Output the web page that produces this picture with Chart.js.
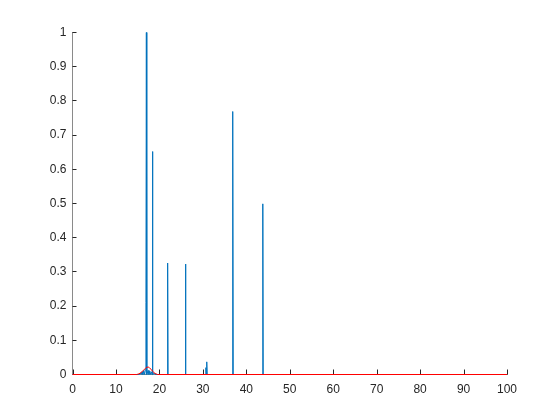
<!DOCTYPE html>
<html>
<head>
<meta charset="utf-8">
<script src="https://cdn.jsdelivr.net/npm/chart.js@4.4.0/dist/chart.umd.min.js"></script>
<style>
  html, body { margin: 0; padding: 0; background: #fff; }
  #wrap { width: 560px; height: 420px; }
</style>
</head>
<body>
<div id="wrap"><canvas id="js--plot" width="560" height="420"></canvas></div>
<script>
// tick labels
const xTicks = [0, 10, 20, 30, 40, 50, 60, 70, 80, 90, 100]
const yTicks = [0, 0.1, 0.2, 0.3, 0.4, 0.5, 0.6, 0.7, 0.8, 0.9, 1]

// blue trace (spectrum)
const blueX = [0, 15.4, 15.6, 15.8, 16.0, 16.2, 16.4, 16.6, 16.8, 16.9, 17.0, 17.1, 17.4, 17.6, 17.8, 18.0, 18.2, 18.3, 18.4, 18.5, 18.8, 19.0, 19.3,
               21.8, 21.9, 22.0, 25.9, 26.0, 26.1, 30.6, 30.7, 30.8, 30.9, 31.0, 36.8, 36.85, 36.9, 37.0, 43.7, 43.8, 43.9, 100]
const blueY = [0, 0, 0.004, 0, 0.008, 0, 0.012, 0, 0.015, 0.21, 1.0, 0, 0.012, 0, 0.01, 0, 0.008, 0, 0.652, 0, 0.004, 0, 0,
               0, 0.326, 0, 0, 0.323, 0, 0, 0.02, 0, 0.037, 0, 0, 0.283, 0.769, 0, 0, 0.499, 0, 0]

// red trace (smooth envelope)
const redX = [0, 14.8, 15.3, 15.8, 16.3, 16.8, 17.1, 17.4, 17.7, 18.0, 18.4, 18.8, 19.2, 19.6, 100]
const redY = [0, 0, 0.002, 0.006, 0.012, 0.018, 0.021, 0.022, 0.02, 0.016, 0.01, 0.005, 0.002, 0, 0]

const blueData = blueX.map((x, i) => ({ x: x, y: blueY[i] }))
const redData = redX.map((x, i) => ({ x: x, y: redY[i] }))

const axisColor = '#8a8a8a'
const textColor = '#262626'

// matlab style ticks pointing into the plot
const inwardTicks = {
  id: 'inwardTicks',
  beforeDatasetsDraw(chart) {
    const c = chart.ctx
    const xs = chart.scales.x, ys = chart.scales.y
    const area = chart.chartArea
    c.save()
    c.strokeStyle = textColor
    c.lineWidth = 1
    c.beginPath()
    xTicks.forEach(v => {
      const px = Math.round(xs.getPixelForValue(v)) + 0.5
      c.moveTo(px, area.bottom)
      c.lineTo(px, area.bottom - 5)
    })
    yTicks.slice(1).forEach(v => {
      const py = Math.floor(ys.getPixelForValue(v)) + 0.5
      c.moveTo(area.left, py)
      c.lineTo(area.left + 4, py)
    })
    c.stroke()
    c.restore()
  }
}

new Chart(document.getElementById('js--plot'), {
  type: 'line',
  data: {
    datasets: [
      { data: redData, borderColor: '#ff0000', borderWidth: 1, pointRadius: 0, tension: 0, order: 0, clip: false },
      { data: blueData, borderColor: '#0072bd', borderWidth: 1, pointRadius: 0, tension: 0, order: 1, clip: false }
    ]
  },
  options: {
    responsive: false,
    animation: false,
    layout: { padding: { top: 32.5, right: 53, left: 0, bottom: 0 } },
    plugins: { legend: { display: false }, tooltip: { enabled: false } },
    scales: {
      x: {
        type: 'linear', min: 0, max: 100,
        afterBuildTicks: s => { s.ticks = xTicks.map(v => ({ value: v })) },
        afterFit: s => { s.height = 45.5 },
        grid: { display: true, drawOnChartArea: false, drawTicks: false },
        border: { display: true, color: axisColor, width: 1 },
        ticks: { padding: 8, color: textColor, maxRotation: 0, autoSkip: false,
                 font: { family: 'Liberation Sans', size: 12 } }
      },
      y: {
        type: 'linear', min: 0, max: 1,
        afterBuildTicks: s => { s.ticks = yTicks.map(v => ({ value: v })) },
        afterFit: s => { s.width = 72.5 },
        grid: { display: true, drawOnChartArea: false, drawTicks: false },
        border: { display: true, color: axisColor, width: 1 },
        ticks: { padding: 6, color: textColor, autoSkip: false,
                 callback: v => String(+v.toFixed(1)),
                 font: { family: 'Liberation Sans', size: 12 } }
      }
    }
  },
  plugins: [inwardTicks]
})
</script>
</body>
</html>
